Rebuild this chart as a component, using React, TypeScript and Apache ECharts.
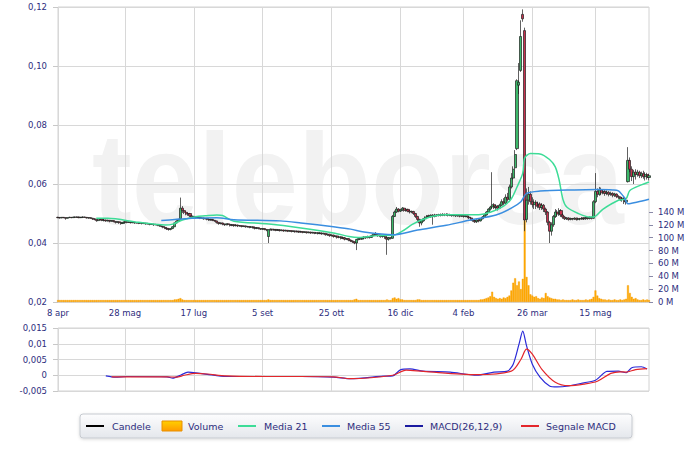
import React, { useEffect, useRef } from 'react';
import * as echarts from 'echarts';

// ---- calendar (trading days) ----
const firstDay = '2013-04-08';
const dayCount = 310;
const holidays = ['2013-05-01', '2013-12-25', '2013-12-26', '2014-01-01', '2014-04-18', '2014-04-21', '2014-05-01'];
const tickDates = ['2013-04-08', '2013-05-28', '2013-07-17', '2013-09-05', '2013-10-25', '2013-12-16', '2014-02-04', '2014-03-26', '2014-05-15'];
const tickLabels = ['8 apr', '28 mag', '17 lug', '5 set', '25 ott', '16 dic', '4 feb', '26 mar', '15 mag'];

// ---- candles: [open, close, low, high] ----
const candles = [
[.0487,.0486,.0484,.0489],[.0486,.0485,.0483,.0487],[.0485,.0487,.0484,.0488],[.0487,.0486,.0484,.0488],[.0486,.0484,.0479,.0487],
[.0484,.0486,.0483,.0487],[.0486,.0487,.0485,.0489],[.0487,.0486,.0484,.0488],[.0486,.0488,.0485,.0489],[.0488,.0487,.0485,.0490],
[.0487,.0488,.0486,.0490],[.0488,.0486,.0484,.0489],[.0486,.0487,.0485,.0488],[.0487,.0488,.0486,.0490],[.0488,.0487,.0485,.0489],
[.0487,.0485,.0483,.0488],[.0485,.0486,.0482,.0487],[.0486,.0484,.0482,.0487],[.0484,.0482,.0478,.0485],[.0482,.0480,.0477,.0484],
[.0480,.0476,.0472,.0481],[.0476,.0479,.0474,.0480],[.0479,.0481,.0477,.0484],[.0481,.0477,.0474,.0482],[.0477,.0478,.0473,.0480],
[.0478,.0475,.0472,.0479],[.0475,.0477,.0473,.0479],[.0477,.0474,.0470,.0478],[.0474,.0476,.0472,.0478],[.0476,.0473,.0470,.0477],
[.0473,.0470,.0466,.0474],[.0470,.0472,.0468,.0474],[.0472,.0469,.0465,.0473],[.0469,.0466,.0462,.0470],[.0466,.0470,.0465,.0471],
[.0470,.0472,.0468,.0474],[.0472,.0470,.0467,.0473],[.0470,.0471,.0468,.0473],[.0471,.0469,.0466,.0472],[.0469,.0470,.0467,.0472],
[.0470,.0468,.0465,.0471],[.0468,.0469,.0466,.0471],[.0469,.0467,.0464,.0470],[.0467,.0468,.0465,.0470],[.0468,.0466,.0463,.0469],
[.0466,.0467,.0464,.0469],[.0467,.0465,.0462,.0468],[.0465,.0466,.0463,.0468],[.0466,.0463,.0460,.0467],[.0463,.0464,.0461,.0466],
[.0464,.0462,.0458,.0465],[.0462,.0463,.0460,.0465],[.0463,.0460,.0457,.0464],[.0460,.0458,.0455,.0461],[.0458,.0456,.0453,.0459],
[.0456,.0453,.0450,.0457],[.0453,.0450,.0447,.0454],[.0450,.0448,.0444,.0451],[.0448,.0446,.0442,.0449],[.0446,.0449,.0443,.0450],
[.0449,.0455,.0447,.0457],[.0455,.0468,.0454,.0470],[.0468,.0474,.0466,.0477],[.0474,.0480,.0472,.0482],[.0482,.0518,.0480,.0554],
[.0518,.0510,.0502,.0525],[.0510,.0504,.0498,.0512],[.0504,.0498,.0494,.0506],[.0498,.0500,.0492,.0503],[.0500,.0492,.0488,.0502],
[.0492,.0488,.0485,.0494],[.0488,.0490,.0486,.0492],[.0490,.0486,.0483,.0491],[.0486,.0487,.0484,.0489],[.0487,.0484,.0481,.0488],
[.0484,.0485,.0482,.0487],[.0485,.0482,.0479,.0486],[.0482,.0483,.0480,.0485],[.0483,.0480,.0477,.0484],[.0480,.0478,.0475,.0481],
[.0478,.0480,.0476,.0482],[.0480,.0477,.0474,.0481],[.0477,.0475,.0472,.0478],[.0475,.0470,.0466,.0476],[.0470,.0466,.0462,.0471],
[.0466,.0468,.0463,.0470],[.0468,.0464,.0460,.0469],[.0464,.0462,.0458,.0466],[.0462,.0465,.0460,.0466],[.0465,.0463,.0460,.0467],
[.0463,.0460,.0456,.0464],[.0460,.0462,.0457,.0464],[.0462,.0459,.0455,.0463],[.0459,.0461,.0456,.0463],[.0461,.0458,.0454,.0462],
[.0458,.0459,.0455,.0461],[.0459,.0456,.0453,.0460],[.0456,.0458,.0454,.0460],[.0458,.0455,.0452,.0459],[.0455,.0456,.0452,.0458],
[.0456,.0453,.0450,.0457],[.0453,.0455,.0451,.0457],[.0455,.0452,.0449,.0456],[.0452,.0450,.0446,.0453],[.0450,.0452,.0447,.0454],
[.0452,.0449,.0446,.0453],[.0449,.0447,.0444,.0450],[.0447,.0449,.0444,.0451],[.0449,.0446,.0443,.0450],[.0446,.0444,.0440,.0447],
[.0422,.0445,.0400,.0447],[.0445,.0447,.0442,.0449],[.0447,.0444,.0441,.0448],[.0444,.0446,.0442,.0448],[.0446,.0443,.0440,.0447],
[.0443,.0445,.0441,.0447],[.0445,.0442,.0439,.0446],[.0442,.0444,.0440,.0446],[.0444,.0441,.0438,.0445],[.0441,.0443,.0439,.0445],
[.0443,.0440,.0437,.0444],[.0440,.0442,.0438,.0444],[.0442,.0439,.0436,.0443],[.0439,.0441,.0437,.0443],[.0441,.0438,.0435,.0442],
[.0438,.0440,.0436,.0442],[.0440,.0437,.0434,.0441],[.0437,.0439,.0435,.0441],[.0439,.0436,.0433,.0440],[.0436,.0438,.0434,.0440],
[.0438,.0435,.0432,.0439],[.0435,.0437,.0433,.0439],[.0437,.0434,.0431,.0438],[.0434,.0436,.0432,.0438],[.0436,.0433,.0430,.0437],
[.0433,.0435,.0431,.0437],[.0435,.0432,.0429,.0436],[.0432,.0434,.0430,.0436],[.0434,.0431,.0428,.0435],[.0431,.0433,.0429,.0435],
[.0433,.0428,.0425,.0434],[.0428,.0430,.0424,.0432],[.0430,.0425,.0421,.0431],[.0425,.0427,.0422,.0429],[.0427,.0422,.0418,.0428],
[.0422,.0424,.0419,.0426],[.0424,.0419,.0415,.0425],[.0419,.0421,.0416,.0423],[.0421,.0416,.0412,.0422],[.0416,.0418,.0413,.0420],
[.0418,.0413,.0409,.0419],[.0413,.0415,.0410,.0417],[.0415,.0410,.0406,.0416],[.0410,.0407,.0403,.0412],[.0407,.0404,.0400,.0409],
[.0404,.0400,.0396,.0406],[.0400,.0412,.0376,.0414],[.0412,.0415,.0409,.0418],[.0415,.0413,.0410,.0417],[.0413,.0417,.0411,.0419],
[.0417,.0420,.0415,.0423],[.0420,.0418,.0414,.0422],[.0418,.0422,.0416,.0425],[.0422,.0419,.0415,.0424],[.0419,.0425,.0417,.0428],
[.0425,.0430,.0423,.0434],[.0430,.0428,.0424,.0437],[.0428,.0425,.0421,.0430],[.0425,.0427,.0420,.0429],[.0427,.0422,.0418,.0428],
[.0422,.0424,.0418,.0426],[.0424,.0418,.0414,.0425],[.0418,.0413,.0360,.0420],[.0413,.0418,.0408,.0420],[.0418,.0416,.0412,.0420],
[.0416,.0490,.0414,.0495],[.0490,.0505,.0488,.0510],[.0505,.0515,.0502,.0522],[.0515,.0508,.0504,.0518],[.0508,.0512,.0505,.0516],
[.0512,.0518,.0508,.0522],[.0518,.0510,.0506,.0520],[.0510,.0514,.0506,.0517],[.0514,.0508,.0504,.0516],[.0508,.0505,.0500,.0511],
[.0505,.0507,.0501,.0510],[.0507,.0500,.0495,.0509],[.0500,.0490,.0485,.0502],[.0490,.0480,.0470,.0492],[.0480,.0468,.0455,.0482],
[.0468,.0475,.0460,.0478],[.0475,.0482,.0472,.0485],[.0482,.0488,.0479,.0490],[.0488,.0492,.0485,.0495],[.0492,.0489,.0485,.0496],
[.0489,.0494,.0486,.0497],[.0494,.0490,.0462,.0498],[.0490,.0495,.0487,.0499],[.0495,.0493,.0489,.0498],[.0493,.0496,.0490,.0499],
[.0496,.0494,.0490,.0500],[.0494,.0497,.0491,.0501],[.0497,.0495,.0491,.0500],[.0495,.0497,.0492,.0501],[.0497,.0494,.0490,.0500],
[.0494,.0496,.0491,.0499],[.0496,.0493,.0489,.0498],[.0493,.0495,.0490,.0498],[.0495,.0492,.0488,.0497],[.0492,.0494,.0489,.0497],
[.0494,.0491,.0487,.0496],[.0491,.0493,.0488,.0496],[.0493,.0490,.0486,.0495],[.0490,.0492,.0487,.0494],[.0492,.0488,.0484,.0493],
[.0488,.0485,.0481,.0490],[.0485,.0480,.0476,.0487],[.0480,.0476,.0472,.0482],[.0476,.0472,.0468,.0478],[.0472,.0478,.0468,.0480],
[.0478,.0475,.0470,.0481],[.0475,.0482,.0473,.0484],[.0482,.0488,.0480,.0491],[.0488,.0495,.0486,.0498],[.0495,.0505,.0493,.0508],
[.0505,.0515,.0502,.0518],[.0515,.0522,.0510,.0526],[.0522,.0530,.0518,.0640],[.0530,.0520,.0515,.0535],[.0520,.0525,.0512,.0530],
[.0525,.0518,.0510,.0528],[.0518,.0528,.0515,.0533],[.0528,.0540,.0525,.0548],[.0540,.0535,.0528,.0552],[.0535,.0555,.0532,.0565],
[.0555,.0548,.0540,.0570],[.0548,.0590,.0545,.0598],[.0590,.0620,.0585,.0637],[.0620,.0650,.0615,.0660],[.0655,.0700,.0650,.0715],
[.0720,.0950,.0715,.0955],[.0935,.0945,.0905,.1010],[.0985,.1100,.0980,.1155],[.1175,.1160,.1150,.1192],[.1120,.0478,.0440,.1130],
[.0480,.0545,.0470,.0585],[.0545,.0565,.0530,.0590],[.0565,.0540,.0530,.0575],[.0540,.0530,.0520,.0555],[.0530,.0538,.0515,.0548],
[.0538,.0525,.0515,.0545],[.0525,.0532,.0518,.0540],[.0532,.0520,.0512,.0538],[.0520,.0528,.0512,.0535],[.0528,.0515,.0505,.0532],
[.0515,.0505,.0495,.0520],[.0505,.0470,.0460,.0508],[.0470,.0440,.0400,.0475],[.0440,.0462,.0425,.0470],[.0462,.0490,.0455,.0495],
[.0490,.0505,.0485,.0515],[.0505,.0498,.0490,.0512],[.0498,.0510,.0492,.0518],[.0510,.0495,.0488,.0515],[.0495,.0488,.0482,.0500],
[.0488,.0482,.0478,.0492],[.0482,.0485,.0478,.0488],[.0485,.0480,.0476,.0487],[.0480,.0483,.0477,.0486],[.0483,.0481,.0477,.0485],
[.0481,.0484,.0478,.0487],[.0484,.0480,.0476,.0486],[.0480,.0483,.0477,.0486],[.0483,.0481,.0477,.0485],[.0481,.0485,.0479,.0488],
[.0485,.0482,.0478,.0487],[.0482,.0486,.0479,.0489],[.0486,.0483,.0479,.0488],[.0483,.0487,.0480,.0490],[.0487,.0484,.0480,.0489],
[.0484,.0540,.0482,.0545],[.0540,.0575,.0535,.0637],[.0575,.0565,.0555,.0585],[.0565,.0580,.0560,.0590],[.0580,.0570,.0562,.0588],
[.0570,.0575,.0565,.0582],[.0575,.0568,.0560,.0580],[.0568,.0572,.0562,.0578],[.0572,.0565,.0558,.0576],[.0565,.0568,.0560,.0574],
[.0568,.0562,.0555,.0572],[.0562,.0566,.0556,.0570],[.0566,.0558,.0552,.0568],[.0558,.0555,.0548,.0562],[.0555,.0548,.0542,.0558],
[.0548,.0552,.0540,.0556],[.0552,.0540,.0532,.0555],[.0540,.0545,.0530,.0550],[.0608,.0680,.0605,.0725],[.0680,.0650,.0640,.0690],
[.0650,.0625,.0610,.0660],[.0625,.0640,.0600,.0648],[.0640,.0632,.0615,.0650],[.0632,.0640,.0625,.0648],[.0640,.0628,.0620,.0645],
[.0628,.0635,.0620,.0642],[.0635,.0625,.0618,.0645],[.0625,.0632,.0612,.0640],[.0632,.0622,.0615,.0638],[.0622,.0628,.0612,.0635]
];

// ---- volume (millions) ----
const volume = [
3,3,3,3,3,3,3,3,3,3, 3,3,3,3,3,3,3,3,3,3, 3,3,3,3,3,3,3,3,3,3, 3,3,3,3,3,3,3,3,3,3,
3,3,3,3,3,3,3,3,3,3, 3,3,3,3,3,3,3,3,3,3, 3,4,4,5,6,4,3,3,3,3, 3,3,3,3,3,3,3,3,3,3,
3,3,3,3,3,3,3,3,3,3, 3,3,3,3,3,3,3,3,3,3, 3,3,3,3,3,3,3,3,3,3, 4,3,3,3,3,3,3,3,3,3,
3,3,3,3,3,3,3,3,3,3, 3,3,3,3,3,3,3,3,3,3, 3,3,3,3,3,3,3,3,3,3, 3,3,3,3,3,4,5,3,3,3,
3,3,3,3,3,3,3,3,3,3, 3,3,4,3,3,6,7,5,6,4, 4,3,3,3,3,3,3,3,4,4, 3,3,3,3,3,3,3,3,3,3,
3,3,3,3,3,3,3,3,3,3, 3,3,3,3,3,3,3,3,3,3, 3,4,4,5,6,7,9,16,8,6, 5,6,5,7,6,8,10,18,30,37,
26,32,20,36,127,39,26,12,10,8, 9,6,5,7,6,14,9,7,6,5, 5,4,4,3,4,3,3,3,3,4, 3,3,4,3,3,3,4,3,4,5,
8,18,10,6,5,4,4,3,4,3, 3,4,3,3,4,3,4,5,26,14, 8,5,6,4,3,3,4,3,4,3
];

// ---- moving averages: [day index, value] ----
const media21 = [[20,.0484],[26,.0484],[42,.0470],[56,.0461],[60,.0464],[65,.0478],[72,.0489],[77,.0492],[83,.0495],[86,.0493],[92,.0474],[109,.0465],[127,.0451],[144,.0434],[153,.0421],[157,.0419],[167,.0425],[175,.0426],[180,.0440],[185,.0462],[190,.0478],[196,.0491],[203,.0496],[220,.0496],[226,.0504],[233,.0525],[237,.0550],[240,.0590],[243,.0637],[244,.0688],[247,.0703],[252,.0702],[257,.0683],[260,.0658],[262,.0614],[264,.0548],[266,.0522],[272,.0500],[278,.0488],[280,.0488],[285,.0515],[293,.0545],[297,.0550],[299,.0578],[305,.0597],[309,.0607]];
const media55 = [[54,.0476],[61,.0480],[70,.0484],[83,.0486],[92,.0479],[116,.0475],[127,.0468],[144,.0455],[153,.0447],[160,.0437],[175,.0428],[188,.0444],[203,.0460],[215,.0477],[229,.0495],[237,.0518],[242,.0540],[245,.0568],[252,.0576],[270,.0580],[282,.0581],[290,.0580],[293,.0577],[296,.0555],[298,.0533],[303,.0539],[309,.0548]];

// ---- MACD ----
const macd = [[25,-.0002],[30,-.0006],[36,-.0004],[57,-.0005],[60,-.0009],[64,.0000],[68,.0010],[72,.0008],[78,.0003],[88,-.0004],[109,-.0004],[127,-.0004],[144,-.0006],[153,-.0011],[170,-.0003],[175,-.0002],[179,.0017],[184,.0020],[191,.0013],[205,.0010],[219,.0000],[228,.0010],[235,.0013],[238,.0035],[241,.0098],[243,.0140],[245,.0093],[248,.0035],[252,-.0006],[257,-.0034],[261,-.0037],[266,-.0035],[275,-.0024],[281,-.0016],[287,.0012],[293,.0013],[297,.0008],[300,.0024],[305,.0027],[308,.0020]];
const signal = [[28,-.0005],[36,-.0005],[57,-.0005],[62,-.0006],[66,.0000],[72,.0006],[78,.0004],[88,-.0002],[109,-.0004],[127,-.0004],[144,-.0005],[153,-.0011],[175,.0000],[182,.0016],[191,.0012],[219,.0002],[237,.0013],[242,.0050],[245,.0083],[248,.0067],[253,.0019],[260,-.0022],[267,-.0033],[275,-.0028],[282,-.0019],[289,.0006],[294,.0011],[297,.0010],[302,.0018],[308,.0021]];

const legendItems = ['Candele', 'Volume', 'Media 21', 'Media 55', 'MACD(26,12,9)', 'Segnale MACD'];

function tradingDays(): string[] {
  const out: string[] = [];
  const [y, m, d] = firstDay.split('-').map(Number);
  const day = new Date(Date.UTC(y, m - 1, d));
  while (out.length < dayCount) {
    const wd = day.getUTCDay();
    const s = day.toISOString().slice(0, 10);
    if (wd !== 0 && wd !== 6 && !holidays.includes(s)) out.push(s);
    day.setUTCDate(day.getUTCDate() + 1);
  }
  return out;
}

const FONT = '"DejaVu Sans", Verdana, sans-serif';
const LABEL = '#2d2d7d';
const GRIDC = '#d8d8d8';
const C_M21 = '#3ddc97';
const C_M55 = '#3a8ee0';
const C_MACD = '#2a2ad8';
const C_SIG = '#e3262b';

export default function App() {
  const ref = useRef<HTMLDivElement>(null);
  useEffect(() => {
    document.body.style.margin = '0';
    if (!ref.current) return;
    const chart = echarts.init(ref.current, null, { renderer: 'svg' });
    const days = tradingDays();
    const isTick = (_i: number, v: string) => tickDates.includes(v);
    const L = 58, W = 591;

    const catAxis = (gridIndex: number, labels: boolean) => ({
      type: 'category', gridIndex, data: days, boundaryGap: false,
      axisLine: { show: false }, axisTick: { show: false },
      axisLabel: labels ? {
        show: true, interval: isTick, margin: 6, color: LABEL, fontSize: 8.5, fontFamily: FONT,
        formatter: (v: string) => tickLabels[tickDates.indexOf(v)] ?? '',
      } : { show: false },
      splitLine: gridIndex === 1 ? { show: false } : { show: true, interval: isTick, lineStyle: { color: GRIDC, width: 1 } },
    });

    const lx = 80;
    const ly = 426;
    const legendText = (x: number, t: string) => ({
      type: 'text', x, y: ly, z: 20,
      style: { text: t, fill: LABEL, font: `9.5px ${FONT}`, textVerticalAlign: 'middle', verticalAlign: 'middle' },
    });
    const legendLine = (x: number, color: string) => ({
      type: 'line', z: 20, shape: { x1: x, y1: ly, x2: x + 18, y2: ly }, style: { stroke: color, lineWidth: 2 },
    });

    chart.setOption({
      animation: false,
      backgroundColor: '#ffffff',
      grid: [
        { left: L, width: W, top: 7, height: 295, show: true, borderColor: '#d2d2d2', borderWidth: 1, backgroundColor: 'transparent' },
        { left: L, width: W, top: 212, height: 90 },
        { left: L, width: W, top: 328, height: 63, show: true, borderColor: '#d2d2d2', borderWidth: 1, backgroundColor: 'transparent' },
      ],
      xAxis: [catAxis(0, true), catAxis(1, false), catAxis(2, false)],
      yAxis: [
        {
          type: 'value', gridIndex: 0, min: 0.02, max: 0.12, interval: 0.02,
          axisLine: { show: false }, axisTick: { show: true, length: 5, lineStyle: { color: '#c8c8c8' } },
          axisLabel: { margin: 11, color: LABEL, fontSize: 8.5, fontFamily: FONT, formatter: (v: number) => v.toFixed(2).replace('.', ',') },
          splitLine: { lineStyle: { color: GRIDC } },
        },
        {
          type: 'value', gridIndex: 1, position: 'right', min: 0, max: 140, interval: 20,
          axisLine: { show: false }, axisTick: { show: true, length: 4, lineStyle: { color: '#8a8aa8' } },
          axisLabel: { margin: 9, color: LABEL, fontSize: 8.5, fontFamily: FONT, formatter: (v: number) => `${v} M` },
          splitLine: { show: false },
        },
        {
          type: 'value', gridIndex: 2, min: -0.005, max: 0.015, interval: 0.005,
          axisLine: { show: false }, axisTick: { show: true, length: 5, lineStyle: { color: '#c8c8c8' } },
          axisLabel: {
            margin: 11, color: LABEL, fontSize: 8.5, fontFamily: FONT,
            formatter: (v: number) => String(parseFloat(v.toFixed(3))).replace('.', ','),
          },
          splitLine: { lineStyle: { color: GRIDC } },
        },
      ],
      series: [
        {
          name: 'Volume', type: 'bar', xAxisIndex: 1, yAxisIndex: 1, data: volume, barWidth: 1.9, z: 2,
          itemStyle: { color: '#ffab00', borderColor: '#f49a00', borderWidth: 0.4 },
        },
        {
          name: 'Candele', type: 'candlestick', xAxisIndex: 0, yAxisIndex: 0, data: candles, barWidth: 2.6, z: 4,
          itemStyle: { color: '#3cb96a', color0: '#c8314f', borderColor: '#1e1e1e', borderColor0: '#1e1e1e', borderWidth: 0.7 },
        },
        {
          name: 'Media 21', type: 'line', xAxisIndex: 0, yAxisIndex: 0, data: media21, smooth: 0.3, showSymbol: false, z: 5,
          lineStyle: { color: C_M21, width: 1.5 },
        },
        {
          name: 'Media 55', type: 'line', xAxisIndex: 0, yAxisIndex: 0, data: media55, smooth: 0.3, showSymbol: false, z: 5,
          lineStyle: { color: C_M55, width: 1.5 },
        },
        {
          name: 'MACD(26,12,9)', type: 'line', xAxisIndex: 2, yAxisIndex: 2, data: macd, smooth: 0.25, showSymbol: false, z: 5,
          lineStyle: { color: C_MACD, width: 1.2 },
        },
        {
          name: 'Segnale MACD', type: 'line', xAxisIndex: 2, yAxisIndex: 2, data: signal, smooth: 0.3, showSymbol: false, z: 6,
          lineStyle: { color: C_SIG, width: 1.2 },
        },
      ],
      graphic: [
        {
          type: 'text', x: 92, y: 244, z: -10, silent: true, scaleX: 0.92,
          style: { text: 'teleborsa', fill: '#f2f2f2', font: 'bold 130px "Liberation Sans", Arial, sans-serif', textVerticalAlign: 'bottom', verticalAlign: 'bottom' },
        },
        {
          type: 'rect', z: 19, shape: { x: lx, y: 414, width: 552, height: 24, r: 3 },
          style: {
            fill: new echarts.graphic.LinearGradient(0, 0, 0, 1, [{ offset: 0, color: '#fdfdfe' }, { offset: 1, color: '#e4e7ec' }]),
            stroke: '#c6cad0', lineWidth: 1, shadowBlur: 3, shadowColor: 'rgba(0,0,0,0.15)', shadowOffsetY: 1,
          },
        },
        legendLine(86, '#000000'),
        legendText(112, legendItems[0]),
        {
          type: 'rect', z: 20, shape: { x: 162, y: 421, width: 20, height: 10 },
          style: {
            fill: new echarts.graphic.LinearGradient(0, 0, 0, 1, [{ offset: 0, color: '#ffd000' }, { offset: 1, color: '#ff9a00' }]),
            stroke: '#e89000', lineWidth: 1,
          },
        },
        legendText(188, legendItems[1]),
        legendLine(238, C_M21),
        legendText(264, legendItems[2]),
        legendLine(322, C_M55),
        legendText(347, legendItems[3]),
        legendLine(405, '#1a1aa0'),
        legendText(430, legendItems[4]),
        legendLine(521, C_SIG),
        legendText(546, legendItems[5]),
      ],
    });
    return () => chart.dispose();
  }, []);
  return <div ref={ref} style={{ width: 700, height: 451 }} />;
}
